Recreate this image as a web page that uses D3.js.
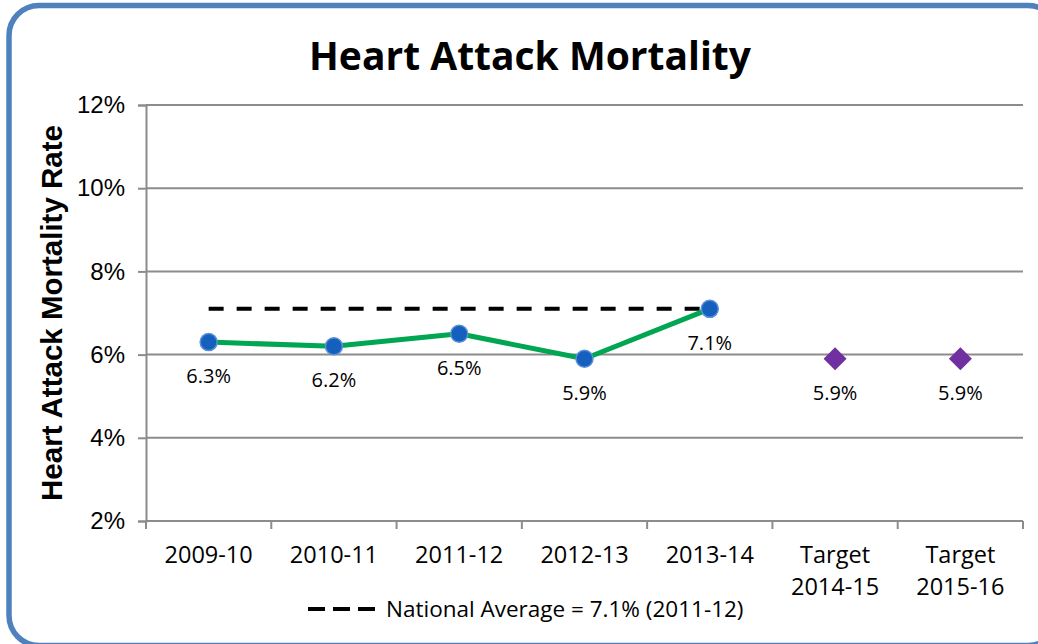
<!DOCTYPE html>
<html>
<head>
<meta charset="utf-8">
<script src="https://d3js.org/d3.v7.min.js"></script>
<style>
  body { margin: 0; background: #fff; }
  svg { display: block; }
</style>
</head>
<body>
<div id="chart"></div>
<script>
// chart data
var categories = ["2009-10", "2010-11", "2011-12", "2012-13", "2013-14", "Target 2014-15", "Target 2015-16"];
var actualCats = ["2009-10", "2010-11", "2011-12", "2012-13", "2013-14"];
var actualValues = [6.3, 6.2, 6.5, 5.9, 7.1];
var targetCats = ["Target 2014-15", "Target 2015-16"];
var targetValues = [5.9, 5.9];
var nationalAvg = 7.1;
var nationalCats = ["2009-10", "2013-14"];
var yTicks = [2, 4, 6, 8, 10, 12];
var legendText = "National Average = 7.1% (2011-12)";

var w = 1038, h = 644;
var plotLeft = 146, plotRight = 1023, plotTop = 105, plotBottom = 521;

var svg = d3.select("#chart").append("svg")
  .attr("width", w)
  .attr("height", h);

// outer rounded frame
svg.append("rect")
  .attr("x", 9).attr("y", 5.5)
  .attr("width", 1049).attr("height", 640)
  .attr("rx", 30).attr("ry", 30)
  .attr("fill", "#fff")
  .attr("stroke", "#4F81BD")
  .attr("stroke-width", 5.5);

var x = d3.scaleBand().domain(categories).range([plotLeft, plotRight]).padding(0);
var y = d3.scaleLinear().domain([2, 12]).range([plotBottom, plotTop]);
var cx = function (c) { return x(c) + x.bandwidth() / 2; };

// gridlines
svg.append("g").selectAll("line")
  .data(yTicks.slice(1))
  .enter().append("line")
  .attr("x1", plotLeft).attr("x2", plotRight)
  .attr("y1", function (d) { return y(d); })
  .attr("y2", function (d) { return y(d); })
  .attr("stroke", "#8c8c8c")
  .attr("stroke-width", 2);

// y axis
var yAxis = svg.append("g")
  .attr("transform", "translate(" + plotLeft + ",0)")
  .call(d3.axisLeft(y).tickValues(yTicks).tickFormat(function (d) { return d + "%"; })
    .tickSize(8).tickPadding(13));
yAxis.select(".domain").attr("stroke", "#8c8c8c").attr("stroke-width", 2);
yAxis.selectAll(".tick line").attr("stroke", "#8c8c8c").attr("stroke-width", 2);
yAxis.selectAll(".tick text")
  .attr("font-family", "'Liberation Sans', Arial, sans-serif")
  .attr("font-size", 24)
  .attr("fill", "#000");

// x axis
svg.append("line")
  .attr("x1", plotLeft).attr("x2", plotRight)
  .attr("y1", plotBottom).attr("y2", plotBottom)
  .attr("stroke", "#8c8c8c").attr("stroke-width", 2);

var bounds = categories.map(function (c) { return x(c); }).concat([plotRight]);
svg.append("g").selectAll("line")
  .data(bounds)
  .enter().append("line")
  .attr("x1", function (d) { return d; })
  .attr("x2", function (d) { return d; })
  .attr("y1", plotBottom).attr("y2", plotBottom + 8)
  .attr("stroke", "#8c8c8c").attr("stroke-width", 2);

var catLabel = svg.append("g").selectAll("text")
  .data(categories)
  .enter().append("text")
  .attr("x", function (d) { return cx(d); })
  .attr("y", 563)
  .attr("text-anchor", "middle")
  .attr("font-family", "'Open Sans', sans-serif")
  .attr("font-size", 23.5)
  .attr("fill", "#000");
catLabel.each(function (d) {
  var parts = d.indexOf("Target") === 0 ? ["Target", d.slice(7)] : [d];
  var t = d3.select(this);
  parts.forEach(function (p, i) {
    t.append("tspan")
      .attr("x", cx(d))
      .attr("dy", i === 0 ? 0 : 32)
      .text(p);
  });
});

// national average dashed line
svg.append("line")
  .attr("x1", cx(nationalCats[0])).attr("x2", cx(nationalCats[1]))
  .attr("y1", y(nationalAvg)).attr("y2", y(nationalAvg))
  .attr("stroke", "#000")
  .attr("stroke-width", 4)
  .attr("stroke-dasharray", "15,13");

// actual series line
var line = d3.line()
  .x(function (d, i) { return cx(actualCats[i]); })
  .y(function (d) { return y(d); });

svg.append("path")
  .datum(actualValues)
  .attr("d", line)
  .attr("fill", "none")
  .attr("stroke", "#00A651")
  .attr("stroke-width", 5)
  .attr("stroke-linejoin", "round");

svg.append("g").selectAll("circle")
  .data(actualValues)
  .enter().append("circle")
  .attr("cx", function (d, i) { return cx(actualCats[i]); })
  .attr("cy", function (d) { return y(d); })
  .attr("r", 8.5)
  .attr("fill", "#1560BD")
  .attr("stroke", "#5B8FD8")
  .attr("stroke-width", 1.5);

// target diamonds
var dsz = 11.5;
svg.append("g").selectAll("path")
  .data(targetValues)
  .enter().append("path")
  .attr("transform", function (d, i) { return "translate(" + cx(targetCats[i]) + "," + y(d) + ")"; })
  .attr("d", "M0," + (-dsz) + "L" + dsz + ",0L0," + dsz + "L" + (-dsz) + ",0Z")
  .attr("fill", "#7030A0");

// data labels
var labelData = actualValues.map(function (v, i) { return { c: actualCats[i], v: v }; })
  .concat(targetValues.map(function (v, i) { return { c: targetCats[i], v: v }; }));
svg.append("g").selectAll("text")
  .data(labelData)
  .enter().append("text")
  .attr("x", function (d) { return cx(d.c); })
  .attr("y", function (d) { return y(d.v) + 41; })
  .attr("text-anchor", "middle")
  .attr("font-family", "'Open Sans', sans-serif")
  .attr("font-size", 20)
  .attr("fill", "#000")
  .text(function (d) { return d.v.toFixed(1) + "%"; });

// title
svg.append("text")
  .attr("x", 530).attr("y", 70)
  .attr("text-anchor", "middle")
  .attr("font-family", "'Open Sans', sans-serif")
  .attr("font-weight", "bold")
  .attr("font-size", 39)
  .attr("fill", "#000")
  .text("Heart Attack Mortality");

// y axis title
svg.append("text")
  .attr("transform", "translate(62,313) rotate(-90)")
  .attr("text-anchor", "middle")
  .attr("font-family", "'Liberation Sans', Arial, sans-serif")
  .attr("font-weight", "bold")
  .attr("font-size", 29.5)
  .attr("fill", "#000")
  .text("Heart Attack Mortality Rate");

// legend
svg.append("line")
  .attr("x1", 308).attr("x2", 380)
  .attr("y1", 609).attr("y2", 609)
  .attr("stroke", "#000")
  .attr("stroke-width", 4)
  .attr("stroke-dasharray", "17,8");
svg.append("text")
  .attr("x", 386).attr("y", 617)
  .attr("font-family", "'Open Sans', sans-serif")
  .attr("font-size", 22.5)
  .attr("fill", "#000")
  .text(legendText);
</script>
</body>
</html>
